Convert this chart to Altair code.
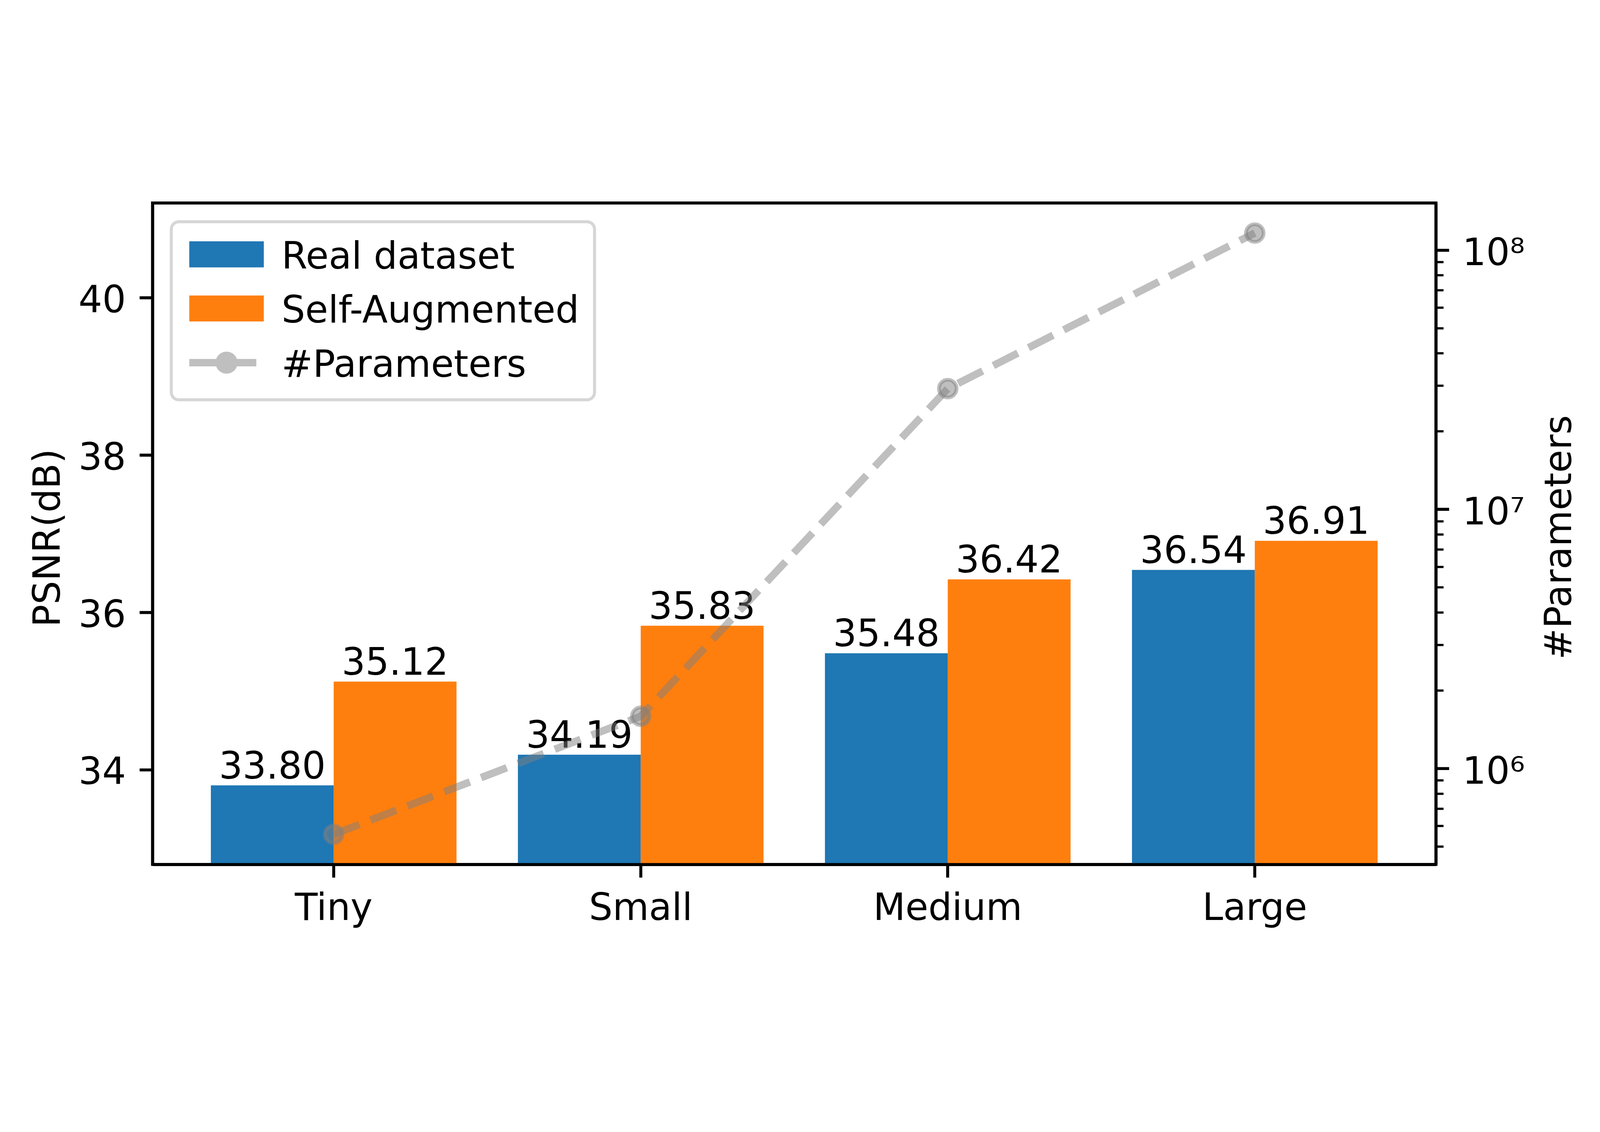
import altair as alt
import pandas as pd

# ---------------- data ----------------
sizes = ["Tiny", "Small", "Medium", "Large"]
series_names = ["Real dataset", "Self-Augmented"]
real_psnr = [33.80, 34.19, 35.48, 36.54]
aug_psnr = [35.12, 35.83, 36.42, 36.91]
num_params = [5.57e5, 1.59e6, 2.92e7, 1.163e8]
param_label = "#Parameters"
legend_entries = series_names + [param_label]

left_ticks = [34, 36, 38, 40]
right_major = [1e6, 1e7, 1e8]
right_minor = [5e5, 6e5, 7e5, 8e5, 9e5,
               2e6, 3e6, 4e6, 5e6, 6e6, 7e6, 8e6, 9e6,
               2e7, 3e7, 4e7, 5e7, 6e7, 7e7, 8e7, 9e7]
psnr_domain = [32.795, 41.205]
param_domain = [426300, 1.519e8]
colors = ["#1f77b4", "#ff7f0e", "#bfbfbf"]

bar_df = pd.DataFrame({
    "size": sizes * 2,
    "series": [series_names[0]] * len(sizes) + [series_names[1]] * len(sizes),
    "psnr": real_psnr + aug_psnr,
})
param_df = pd.DataFrame({"size": sizes, "params": num_params})
legend_df = pd.DataFrame({"series": legend_entries})

# ---------------- style ----------------
FONT = "DejaVu Sans"
FS = 139
LW = 11.1
TICK = 48.6

W, H = 4785, 2467

RECT_PATH = "M-1.853,-0.794H1.853V0.5H-1.853Z"
PARAM_PATH = ("M-1.853,-0.332H-0.48V0.038H-1.853Z"
              "M0.107,-0.332H1.48V0.038H0.107Z"
              "M0.547,-0.147A0.547,0.547,0,1,1,-0.547,-0.147A0.547,0.547,0,1,1,0.547,-0.147Z")
shapes = [RECT_PATH, RECT_PATH, PARAM_PATH]

x_enc = alt.X(
    "size:N", sort=sizes,
    scale=alt.Scale(paddingInner=0.2, paddingOuter=0.19),
    axis=alt.Axis(title=None, labelAngle=0, labelPadding=47.5, zindex=1),
)
x_off = alt.XOffset("series:N", sort=series_names,
                    scale=alt.Scale(paddingInner=0, paddingOuter=0))

psnr_scale = alt.Scale(domain=psnr_domain, nice=False, zero=False)
param_scale = alt.Scale(type="log", domain=param_domain, nice=False)


def make_legend():
    return alt.Legend(
        title=None, orient="top-left", offset=70, padding=57.5,
        symbolSize=22500, symbolOffset=73.5, symbolOpacity=1,
        symbolStrokeWidth=0, labelOffset=130, rowPadding=57,
        labelFont=FONT, labelFontSize=FS, labelColor="black", labelLimit=4000,
        labelBaseline="middle",
        cornerRadius=28, fillColor="rgba(255,255,255,0.8)", strokeColor="#d6d6d6",
    )


color_enc = alt.Color("series:N",
                      scale=alt.Scale(domain=legend_entries, range=colors),
                      legend=make_legend())

bars = alt.Chart(bar_df).mark_bar(clip=True).encode(
    x=x_enc,
    xOffset=x_off,
    y=alt.Y("psnr:Q", scale=psnr_scale,
            axis=alt.Axis(orient="left", values=left_ticks, title="PSNR(dB)",
                          labelPadding=51, labelBaseline="alphabetic", labelOffset=54,
                          titleX=-346, titleY=H / 2 + 15, titleAngle=270,
                          titleBaseline="alphabetic", titleAlign="center", zindex=1)),
    color=color_enc,
)

labels = alt.Chart(bar_df).mark_text(
    font=FONT, fontSize=FS, color="black", baseline="alphabetic", align="center", dy=-26,
).encode(
    x=x_enc,
    xOffset=x_off,
    y=alt.Y("psnr:Q", scale=psnr_scale, axis=None),
    text=alt.Text("psnr:Q", format=".2f"),
)

y_param = alt.Y(
    "params:Q", scale=param_scale,
    axis=alt.Axis(orient="right", values=right_major, title=param_label,
                  labelExpr="'10' + (datum.value > 5e7 ? '\u2078' : datum.value > 5e6 ? '\u2077' : '\u2076')",
                  labelPadding=49.5, labelBaseline="alphabetic", labelOffset=56,
                  titleX=504, titleY=H / 2 + 13, titleAngle=270,
                  titleBaseline="alphabetic", titleAlign="center", zindex=1),
)

line = alt.Chart(param_df).mark_line(
    color="gray", opacity=0.5, strokeWidth=27.8, strokeDash=[102.8, 44.4], strokeCap="butt",
).encode(x=x_enc, y=y_param)

points = alt.Chart(param_df).mark_point(
    shape="circle", filled=True, fill="gray", fillOpacity=0.5,
    stroke="gray", strokeOpacity=0.5, strokeWidth=13.9, size=4356, opacity=1,
).encode(x=x_enc, y=y_param)

minor = alt.Chart(param_df).mark_point(opacity=0).encode(
    x=x_enc,
    y=alt.Y("params:Q", scale=param_scale,
            axis=alt.Axis(orient="right", values=right_minor, labels=False, domain=False,
                          tickSize=27.8, tickWidth=8.3, title=None, zindex=1)),
)

legend_layer = alt.Chart(legend_df).mark_point(filled=True, opacity=0).encode(
    color=color_enc,
    shape=alt.Shape("series:N", scale=alt.Scale(domain=legend_entries, range=shapes),
                    legend=make_legend()),
)

chart = alt.layer(
    bars, labels, alt.layer(line, points), minor, legend_layer
).resolve_scale(y="independent").properties(
    width=W, height=H,
    autosize=alt.AutoSizeParams(type="none"),
    padding={"left": 557, "top": 91, "right": 600, "bottom": 310},
    background="white",
).configure_view(
    stroke="black", strokeWidth=LW,
).configure_axis(
    grid=False, labelFont=FONT, labelFontSize=FS, labelColor="black", labelLimit=3000,
    tickColor="black", tickWidth=LW, tickSize=TICK,
    domainColor="black", domainWidth=LW,
    titleFont=FONT, titleFontSize=FS, titleFontWeight="normal", titleColor="black",
    titleLimit=4000,
).configure_legend(
    strokeWidth=LW,
)

chart.save("out.html", embed_options={"renderer": "svg", "actions": False})
